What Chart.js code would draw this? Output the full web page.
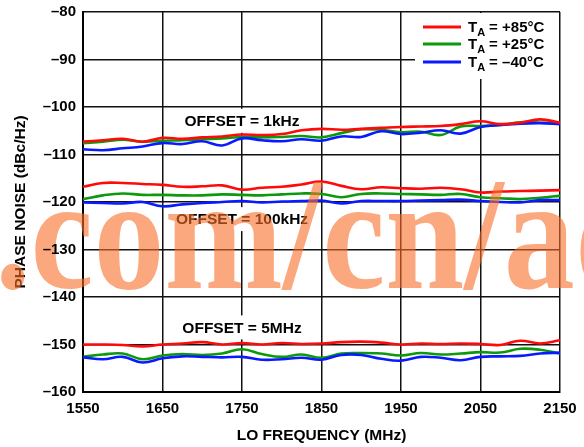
<!DOCTYPE html>
<html>
<head>
<meta charset="utf-8">
<script src="https://cdn.jsdelivr.net/npm/chart.js@4.4.1/dist/chart.umd.min.js"></script>
<style>
  html, body { margin: 0; padding: 0; background: #fff; }
  canvas { display: block; }
</style>
</head>
<body>
<canvas id="noise" width="584" height="447"></canvas>
<script>
  // LO frequency sweep (MHz)
  var freq = [1550, 1575, 1600, 1625, 1650, 1675, 1700, 1725, 1750, 1775, 1800, 1825, 1850,
              1875, 1900, 1925, 1950, 1975, 2000, 2025, 2050, 2075, 2100, 2125, 2150];
  var xTicks = [1550, 1650, 1750, 1850, 1950, 2050, 2150];
  var yTicks = [-160, -150, -140, -130, -120, -110, -100, -90, -80];
  var temps = ['+85°C', '+25°C', '–40°C'];

  // phase noise (dBc/Hz), 1kHz offset
  var off1k85 = [-107.3, -107.0, -106.7, -107.3, -106.5, -106.7, -106.4, -106.2, -105.8, -105.9, -105.7, -104.9, -104.6,
                 -104.8, -104.6, -104.4, -104.2, -104.1, -104.0, -103.6, -103.0, -103.6, -103.3, -102.6, -103.3];
  var off1k25 = [-107.6, -107.3, -106.9, -107.3, -107.1, -107.0, -106.8, -106.6, -106.3, -106.4, -106.3, -106.1, -106.4,
                 -105.5, -104.7, -104.8, -105.3, -105.2, -105.9, -104.1, -104.0, -103.8, -103.2, -103.3, -103.4];
  var off1kM40 = [-108.9, -109.1, -108.7, -108.3, -107.6, -107.8, -107.2, -108.1, -106.6, -107.0, -107.2, -106.8, -107.1,
                  -106.2, -106.3, -105.1, -105.7, -105.4, -104.9, -105.6, -104.2, -103.8, -103.5, -103.4, -103.6];

  // 100kHz offset
  var off100k85 = [-116.8, -116.0, -116.0, -116.2, -116.4, -116.8, -116.7, -116.5, -117.4, -117.0, -116.8, -116.3, -115.7,
                   -116.6, -117.3, -116.9, -117.1, -117.2, -117.0, -117.3, -118.0, -117.8, -117.7, -117.6, -117.5];
  var off100k25 = [-119.4, -118.6, -118.2, -118.5, -118.5, -118.6, -118.6, -118.4, -118.5, -118.6, -118.4, -118.2, -118.3,
                   -119.0, -118.3, -118.2, -118.3, -118.4, -118.5, -118.3, -119.0, -119.2, -119.4, -119.1, -118.7];
  var off100kM40 = [-120.1, -120.2, -120.3, -120.0, -120.9, -120.5, -120.2, -120.0, -119.8, -120.1, -119.9, -119.8, -119.7,
                    -120.3, -119.8, -119.8, -119.8, -119.7, -119.6, -119.5, -119.8, -120.0, -120.1, -119.6, -119.6];

  // 5MHz offset
  var off5M85 = [-150.0, -150.0, -150.1, -150.4, -150.0, -149.8, -149.5, -150.0, -149.7, -150.0, -149.7, -149.9, -149.8,
                 -149.5, -149.4, -149.6, -150.0, -149.8, -149.9, -149.8, -149.9, -150.1, -149.2, -149.8, -149.1];
  var off5M25 = [-152.6, -152.1, -151.9, -153.1, -152.3, -152.0, -152.2, -151.9, -151.0, -152.0, -152.6, -152.1, -152.8,
                 -151.9, -151.8, -151.9, -152.3, -151.8, -152.1, -151.9, -151.6, -151.7, -150.9, -151.1, -151.9];
  var off5MM40 = [-152.7, -153.1, -152.6, -153.8, -152.9, -152.5, -152.6, -152.7, -152.6, -153.2, -153.1, -152.8, -153.2,
                  -152.2, -152.2, -153.0, -153.4, -152.6, -152.8, -153.3, -152.6, -152.5, -152.4, -151.9, -151.7];

  var RED = '#ff0a0a', GREEN = '#0c9a0c', BLUE = '#0a1aff';
  var FONT = '"Liberation Sans", Arial, Helvetica, sans-serif';

  function series(values, color, order) {
    return {
      data: freq.map(function (f, i) { return { x: f, y: values[i] }; }),
      borderColor: color,
      borderWidth: 2.6,
      pointRadius: 0,
      tension: 0.4,
      fill: false,
      order: order
    };
  }

  var datasets = [
    series(off1k85, RED, 0), series(off1k25, GREEN, 2), series(off1kM40, BLUE, 1),
    series(off100k85, RED, 0), series(off100k25, GREEN, 2), series(off100kM40, BLUE, 1),
    series(off5M85, RED, 0), series(off5M25, GREEN, 2), series(off5MM40, BLUE, 1)
  ];

  var offsetLabels = [
    { text: 'OFFSET = 1kHz', f: 1750, db: -102.9 },
    { text: 'OFFSET = 100kHz', f: 1750, db: -123.6 },
    { text: 'OFFSET = 5MHz', f: 1750, db: -146.4 }
  ];

  var extras = {
    id: 'extras',
    beforeDatasetsDraw: function (chart) {
      var ctx = chart.ctx, xs = chart.scales.x, ys = chart.scales.y;
      ctx.save();
      ctx.font = 'bold 15.5px ' + FONT;
      ctx.textAlign = 'center';
      ctx.textBaseline = 'middle';
      offsetLabels.forEach(function (l) {
        var x = xs.getPixelForValue(l.f), y = ys.getPixelForValue(l.db);
        var w = ctx.measureText(l.text).width + 8;
        ctx.fillStyle = '#fff';
        ctx.fillRect(x - w / 2, y - 12, w, 24);
        ctx.fillStyle = '#000';
        ctx.fillText(l.text, x, y + 1);
      });
      ctx.restore();
    },
    afterDatasetsDraw: function (chart) {
      var ctx = chart.ctx, a = chart.chartArea;
      ctx.save();

      // legend box
      ctx.fillStyle = '#fff';
      ctx.fillRect(a.right - 145, a.top + 1, 144, 66);
      var colors = [RED, GREEN, BLUE];
      var rows = [15, 32, 50];
      temps.forEach(function (t, i) {
        var y = a.top + rows[i];
        ctx.strokeStyle = colors[i];
        ctx.lineWidth = 3;
        ctx.beginPath();
        ctx.moveTo(a.right - 137, y);
        ctx.lineTo(a.right - 99, y);
        ctx.stroke();
        ctx.fillStyle = '#000';
        ctx.textBaseline = 'alphabetic';
        ctx.textAlign = 'left';
        var x = a.right - 92;
        ctx.font = 'bold 15px ' + FONT;
        ctx.fillText('T', x, y + 5);
        x += ctx.measureText('T').width;
        ctx.font = 'bold 11px ' + FONT;
        ctx.fillText('A', x, y + 9);
        x += ctx.measureText('A').width + 4;
        ctx.font = 'bold 15px ' + FONT;
        ctx.fillText('= ' + t, x, y + 5);
      });

      // site watermark over the plot
      ctx.fillStyle = 'rgba(250, 110, 40, 0.6)';
      ctx.font = 'bold 142px "Liberation Serif", "Times New Roman", serif';
      ctx.textAlign = 'left';
      ctx.textBaseline = 'alphabetic';
      ctx.translate(-5, 288);
      ctx.scale(1, 1.14);
      ctx.fillText('.com/cn/ad', 0, 0);
      ctx.restore();
    }
  };

  new Chart(document.getElementById('noise'), {
    type: 'line',
    data: { datasets: datasets },
    plugins: [extras],
    options: {
      responsive: false,
      devicePixelRatio: 1,
      animation: false,
      layout: { padding: { top: 12, right: 24, bottom: 0, left: 0 } },
      plugins: { legend: { display: false }, tooltip: { enabled: false } },
      scales: {
        x: {
          type: 'linear',
          min: 1550,
          max: 2150,
          afterBuildTicks: function (s) { s.ticks = xTicks.map(function (v) { return { value: v }; }); },
          afterFit: function (s) { s.height = 55; s.paddingLeft = 0; s.paddingRight = 0; },
          grid: { color: '#111', lineWidth: 1.5, drawTicks: false },
          border: { color: '#000', width: 2 },
          ticks: {
            color: '#000',
            padding: 8,
            z: 1,
            maxRotation: 0,
            font: { family: FONT, size: 15, weight: 'bold' },
            callback: function (v) { return String(v); }
          },
          title: {
            display: true,
            text: 'LO FREQUENCY (MHz)',
            color: '#000',
            font: { family: FONT, size: 15.5, weight: 'bold' },
            padding: { top: 0, bottom: 2 }
          }
        },
        y: {
          min: -160,
          max: -80,
          afterBuildTicks: function (s) { s.ticks = yTicks.map(function (v) { return { value: v }; }); },
          afterFit: function (s) { s.width = 83; s.paddingTop = 0; s.paddingBottom = 0; },
          grid: { color: '#111', lineWidth: 1.5, drawTicks: false },
          border: { color: '#000', width: 2 },
          ticks: {
            color: '#000',
            padding: 7,
            z: 1,
            font: { family: FONT, size: 15, weight: 'bold' },
            callback: function (v) { return (v < 0 ? '–' : '') + Math.abs(v); }
          },
          title: {
            display: true,
            text: 'PHASE NOISE (dBc/Hz)',
            color: '#000',
            font: { family: FONT, size: 15.5, weight: 'bold' },
            padding: { top: 11, bottom: 0 }
          }
        }
      }
    }
  });
</script>
</body>
</html>
